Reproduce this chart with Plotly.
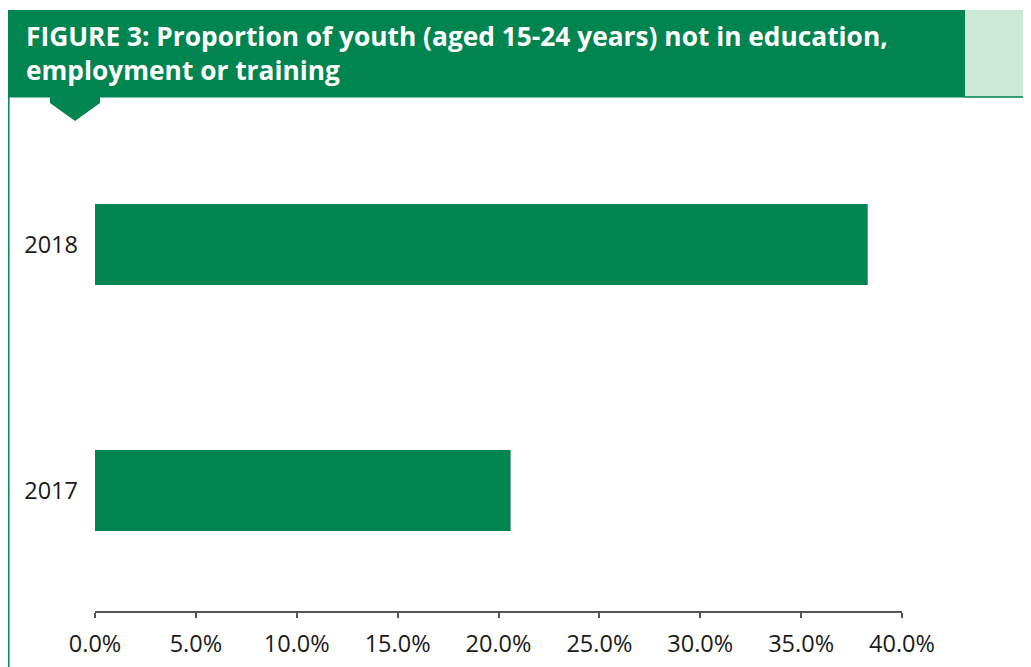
import plotly.graph_objects as go

categories = ["2017", "2018"]
values = [20.6, 38.3]
tick_vals = [0, 5, 10, 15, 20, 25, 30, 35, 40]
tick_text = ["0.0%", "5.0%", "10.0%", "15.0%", "20.0%", "25.0%", "30.0%", "35.0%", "40.0%"]
title_text = "FIGURE 3: Proportion of youth (aged 15-24 years) not in education,<br>employment or training"

# page offset of the figure (default body margin)
OFF = 8
W, H = 1031, 667
# plot area in page pixels: x 95..902, y 121..611
L = 95 - OFF
T = 121 - OFF
R = W - (902 - OFF)
B = H - (611 - OFF)
PW, PH = W - L - R, H - T - B

def px(x):
    return (x - OFF - L) / PW

def py(y):
    return (H - B - (y - OFF)) / PH

GREEN = "#008450"
LIGHT = "#cce8d6"

fig = go.Figure(go.Bar(
    y=categories, x=values, orientation="h",
    marker=dict(color=GREEN, line=dict(width=0)),
    hoverinfo="skip",
))

shapes = [
    dict(type="rect", xref="paper", yref="paper", x0=px(8), x1=px(965), y0=py(97.5), y1=py(10),
         fillcolor=GREEN, line=dict(width=0), layer="above"),
    dict(type="rect", xref="paper", yref="paper", x0=px(965), x1=px(1039), y0=py(97.5), y1=py(10),
         fillcolor=LIGHT, line=dict(width=0), layer="above"),
    dict(type="line", xref="paper", yref="paper", x0=px(965), x1=px(1039), y0=py(97), y1=py(97),
         line=dict(color=GREEN, width=1.5), layer="above"),
    dict(type="line", xref="paper", yref="paper", x0=px(8.8), x1=px(8.8), y0=py(97), y1=py(675),
         line=dict(color=GREEN, width=1.5), layer="above"),
    dict(type="path", xref="paper", yref="paper",
         path=f"M {px(50)},{py(97)} L {px(100)},{py(97)} L {px(100)},{py(103)} L {px(75)},{py(121)} L {px(50)},{py(103)} Z",
         fillcolor=GREEN, line=dict(width=0), layer="above"),
]

fig.update_layout(
    width=W, height=H,
    margin=dict(l=L, r=R, t=T, b=B, pad=0),
    paper_bgcolor="white", plot_bgcolor="white",
    showlegend=False,
    bargap=0.67,
    font=dict(family="Open Sans", size=23.5, color="#1a1a1a"),
    shapes=shapes,
    annotations=[dict(
        text="<b>" + title_text + "</b>", xref="paper", yref="paper",
        x=px(24), y=py(16), xanchor="left", yanchor="top", align="left",
        showarrow=False, font=dict(family="Open Sans", size=26.3, color="white"),
    )],
    xaxis=dict(range=[0, 40], tickvals=tick_vals, ticktext=tick_text,
               showgrid=False, zeroline=False, showline=True, linecolor="#555555", linewidth=1.5,
               ticks="outside", ticklen=5, tickcolor="#555555", tickwidth=1.5,
               ticklabelstandoff=6,
               tickfont=dict(size=23.5, color="#1a1a1a"), fixedrange=True),
    yaxis=dict(range=[-0.49, 1.502], showgrid=False, zeroline=False, showline=False,
               ticks="", ticklabelstandoff=16, tickfont=dict(size=23.5, color="#1a1a1a"), fixedrange=True),
)

fig.write_html("out.html", config={"displayModeBar": False},
               post_script="document.documentElement.style.overflow='hidden';document.body.style.overflow='hidden';")
